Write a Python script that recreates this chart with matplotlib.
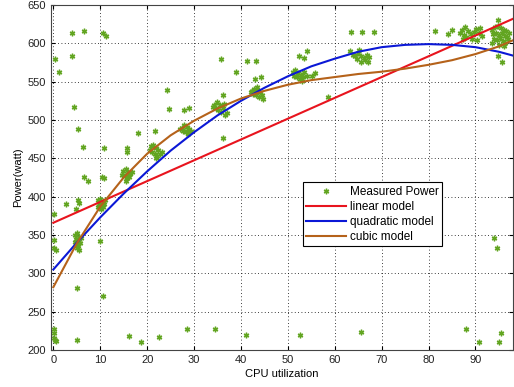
import matplotlib
matplotlib.use("Agg")
import matplotlib.pyplot as plt

plt.rcParams['font.family'] = ['Liberation Sans', 'DejaVu Sans']
plt.rcParams['font.size'] = 8

cpu = [0.3, 1.3, 3.9, 6.6, 3.9, 10.6, 11.2, 4.4, 5.2, 6.4, 6.6, 7.4, 10.4, 10.7, 10.8,
       15.7, 15.7, 18.1, 21.6, 24.3, 24.6, 27.9, 28.9, 35.8, 36.2, 36.2, 39.0, 41.3,
       43.3, 44.2, 42.9, 52.3, 53.4, 54.1, 55.8, 58.5, 63.5, 65.8, 68.4, 81.4, 84.1,
       84.9, 87.3, 94.9, 94.9, 95.6, 2.6, 0.2, 0.2, 0.2, 0.5, 5.0, 9.9, 10.6, 5.3, 5.5,
       4.9, 0.2, 0.2, 0.2, 0.3, 0.5, 5.0, 16.2, 18.7, 22.5, 28.4, 34.4, 41.0, 52.5, 65.5,
       88.0, 90.7, 95.4, 95.1, 94.0, 94.6]
power = [580, 563, 614, 616, 583, 613, 610, 517, 488, 465, 425, 421, 425, 424, 464,
         464, 458, 483, 485, 539, 514, 513, 515, 580, 532, 476, 562, 577,
         577, 556, 553, 583, 581, 590, 561, 530, 615, 615, 615, 616, 612,
         617, 606, 630, 583, 575, 391, 377, 343, 333, 330, 281, 342, 270, 396, 392,
         384, 227, 222, 216, 213, 212, 213, 218, 211, 217, 227, 227, 219, 220, 223,
         227, 210, 222, 211, 346, 333]

# dense clusters of samples
cluster_cpu = [4.6, 5.0, 5.4, 4.8, 5.2, 5.6, 4.9, 5.3, 5.0, 5.4, 4.7, 5.8,
               9.5, 10.0, 10.5, 9.8, 10.3, 10.8, 9.6, 10.1, 11.0, 10.6,
               14.9, 15.4, 15.9, 16.4, 15.2, 15.7, 16.2, 14.6, 15.5, 16.7,
               20.8, 21.3, 21.8, 22.3, 21.0, 21.6, 22.1, 22.8, 20.6, 21.9, 23.1,
               27.4, 27.9, 28.4, 28.9, 27.6, 28.2, 28.7, 29.3, 27.1,
               34.3, 34.9, 35.5, 36.1, 34.6, 35.2, 35.8, 36.7, 37.1, 34.1, 36.4,
               42.3, 42.8, 43.4, 44.0, 42.6, 43.2, 43.8, 44.4, 44.8, 43.5, 42.1,
               51.0, 51.6, 52.2, 52.8, 53.4, 52.0, 52.6, 53.2, 54.0, 55.2, 53.0, 51.4,
               63.2, 63.8, 64.4, 65.0, 65.6, 66.2, 66.8, 67.4, 64.8, 65.6, 66.4, 67.1, 65.1,
               86.6, 87.2, 87.8, 88.4, 89.0, 89.6, 90.2, 90.8, 91.3, 88.0, 89.2, 90.4, 87.5, 91.0,
               93.6, 94.2, 94.8, 95.4, 96.0, 96.6, 97.1, 93.8, 94.4, 95.0, 95.6, 96.2, 96.8,
               94.0, 94.6, 95.2, 95.8, 96.4, 93.5, 95.0, 96.0, 97.0]
cluster_power = [350, 352, 348, 345, 343, 340, 338, 336, 333, 330, 341, 346,
                 395, 397, 393, 390, 388, 391, 386, 384, 395, 386,
                 433, 436, 432, 429, 427, 424, 425, 428, 421, 432,
                 466, 468, 463, 461, 458, 456, 453, 455, 461, 451, 458,
                 490, 493, 491, 488, 485, 484, 482, 486, 488,
                 520, 523, 519, 516, 515, 513, 511, 507, 509, 517, 521,
                 538, 541, 539, 536, 534, 532, 530, 533, 528, 543, 536,
                 562, 565, 561, 559, 562, 556, 554, 556, 558, 557, 551, 558,
                 590, 585, 583, 587, 584, 581, 585, 582, 579, 576, 578, 575, 591,
                 614, 618, 621, 616, 612, 615, 619, 614, 610, 608, 606, 604, 611, 620,
                 618, 621, 622, 620, 618, 616, 613, 612, 614, 611, 614, 610, 608,
                 606, 604, 607, 603, 600, 600, 598, 596, 605]

# model curves
model_x = [0, 5, 10, 15, 20, 25, 30, 35, 40, 45, 50, 55, 60, 65, 70, 75, 80, 85, 90, 95, 98]
linear_x = [0, 98]
linear_y = [366, 632]
quad_y = [305, 340, 373, 404, 433, 460, 484, 506, 525, 542, 557, 570, 580, 589,
          595, 598, 599, 598, 595, 589, 584]
cubic_y = [282, 339, 387, 425, 456, 480, 499, 515, 528, 538, 546, 552, 556, 560,
           563, 567, 572, 578, 586, 596, 604]

fig = plt.figure(figsize=(5.14, 3.87), dpi=100)
ax = fig.add_axes([51 / 514, 37 / 387, 462 / 514, 345 / 387])

green = '#62a521'
ax.plot(cpu + cluster_cpu, power + cluster_power, linestyle='none',
        marker=(6, 2, 0), markersize=4, mew=1.0, color=green,
        label='Measured Power')
ax.plot(linear_x, linear_y, color='#e8141e', lw=1.5, label='linear model')
ax.plot(model_x, quad_y, color='#0b18d6', lw=1.5, label='quadratic model')
ax.plot(model_x, cubic_y, color='#b5621a', lw=1.5, label='cubic model')

ax.set_xlim(-0.5, 98)
ax.set_ylim(200, 650)
ax.set_xticks(range(0, 100, 10))
ax.set_yticks(range(200, 651, 50))
ax.tick_params(direction='in', top=True, right=True, length=3,
               labelcolor='#222222', labelsize=8)
ax.grid(True, color='black', linestyle=(0, (1, 3)), linewidth=0.6)
ax.set_xlabel('CPU utilization', fontsize=8, labelpad=3)
ax.set_ylabel('Power(watt)', fontsize=8, labelpad=3)
for s in ax.spines.values():
    s.set_color('#444444')
    s.set_linewidth(0.8)

leg = ax.legend(loc='upper left', bbox_to_anchor=(0.545, 0.486),
                fancybox=False, framealpha=1, edgecolor='black',
                handlelength=3.4, handletextpad=0.3, borderpad=0.3,
                labelspacing=0.25, fontsize=8.5, borderaxespad=0)
leg.get_frame().set_linewidth(0.8)

fig.savefig('out.png', dpi=100)
